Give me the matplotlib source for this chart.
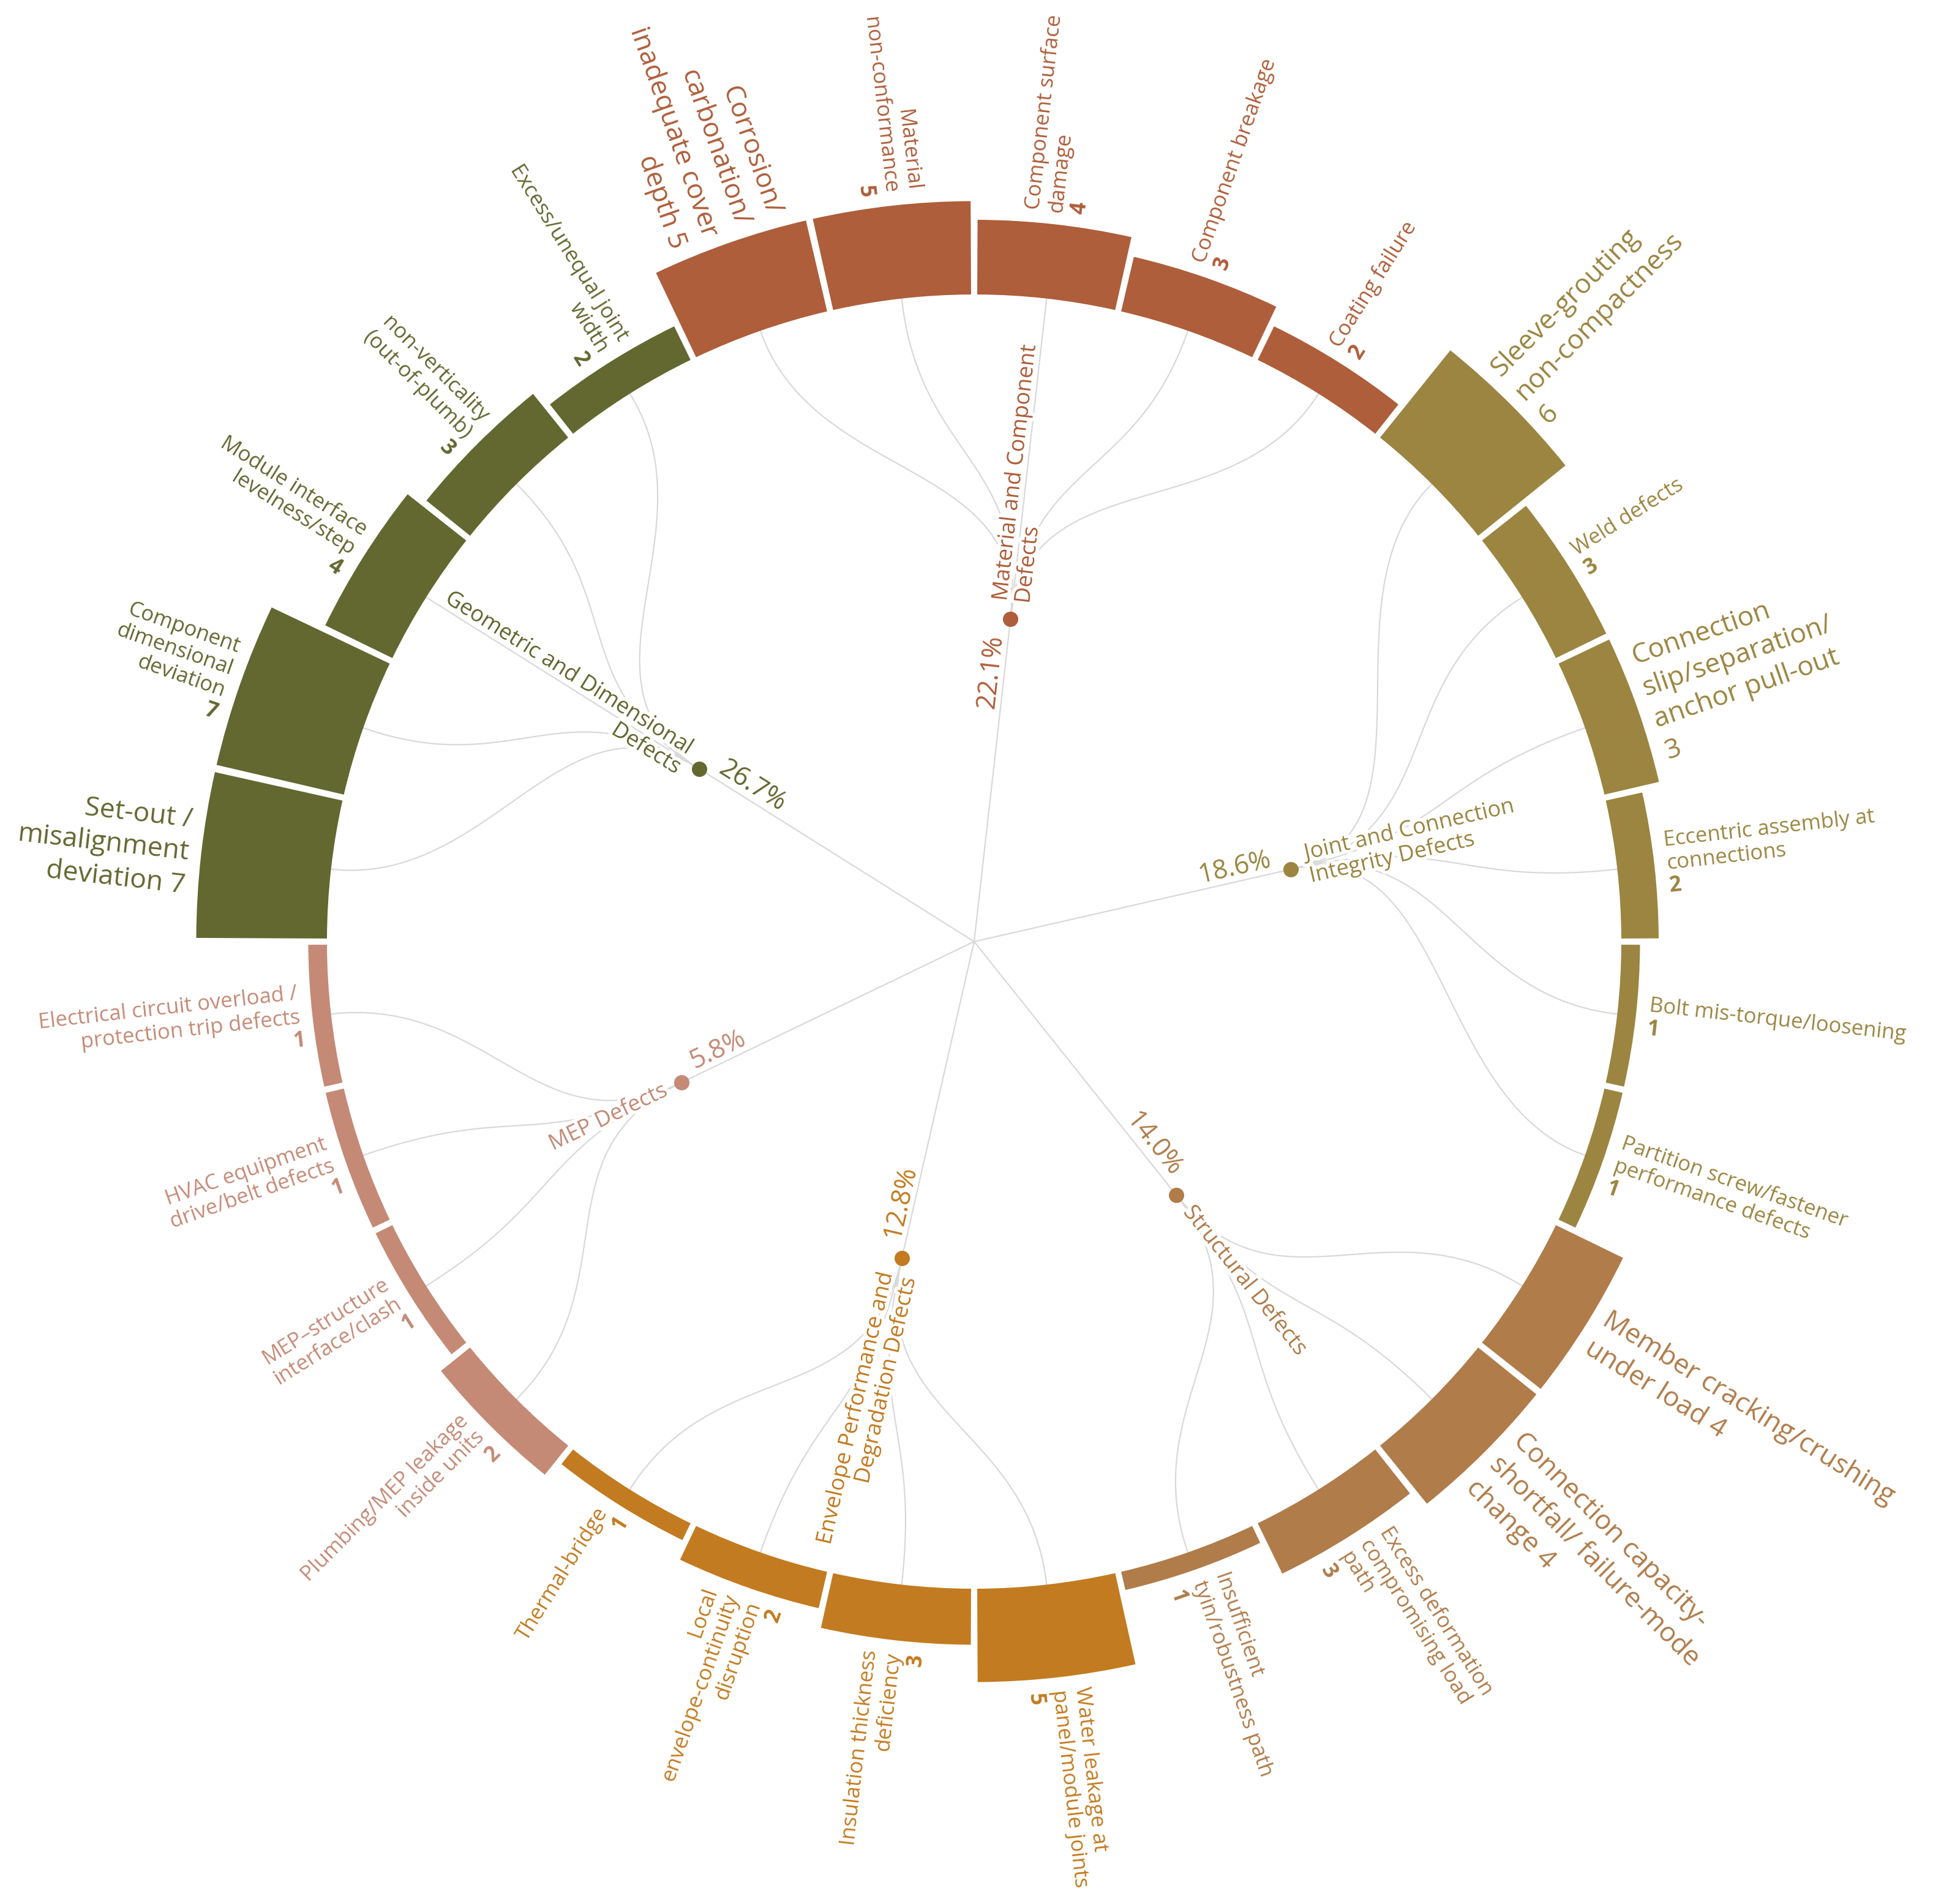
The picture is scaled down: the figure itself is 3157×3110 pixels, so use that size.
import numpy as np
import matplotlib
matplotlib.use('Agg')
import matplotlib.pyplot as plt
import matplotlib.patheffects as pe

plt.rcParams['font.family'] = ['Open Sans', 'DejaVu Sans']
plt.rcParams['mathtext.fontset'] = 'custom'
plt.rcParams['mathtext.rm'] = 'Open Sans'
plt.rcParams['mathtext.bf'] = 'Open Sans:bold'

# ---- data (clockwise, starting at 9 o'clock) ----
group_names = ['Geometric and Dimensional\nDefects',
               'Material and Component\nDefects',
               'Joint and Connection\nIntegrity Defects',
               'Structural Defects',
               'Envelope Performance and\nDegradation Defects',
               'MEP Defects']

geo_names = ['Set-out /\nmisalignment\ndeviation', 'Component\ndimensional\ndeviation',
             'Module interface\nlevelness/step', 'non-verticality\n(out-of-plumb)',
             'Excess/unequal joint\nwidth']
geo_values = [7, 7, 4, 3, 2]

mat_names = ['Corrosion/\ncarbonation/\ninadequate cover\ndepth', 'Material\nnon-conformance',
             'Component surface\ndamage', 'Component breakage', 'Coating failure']
mat_values = [5, 5, 4, 3, 2]

joint_names = ['Sleeve-grouting\nnon-compactness', 'Weld defects',
               'Connection\nslip/separation/\nanchor pull-out', 'Eccentric assembly at\nconnections',
               'Bolt mis-torque/loosening', 'Partition screw/fastener\nperformance defects']
joint_values = [6, 3, 3, 2, 1, 1]

struct_names = ['Member cracking/crushing\nunder load', 'Connection capacity-\nshortfall/ failure-mode\nchange',
                'Excess deformation\ncompromising load\npath', 'Insufficient\ntyin/robustness path']
struct_values = [4, 4, 3, 1]

env_names = ['Water leakage at\npanel/module joints', 'Insulation thickness\ndeficiency',
             'Local\nenvelope-continuity\ndisruption', 'Thermal-bridge']
env_values = [5, 3, 2, 1]

mep_names = ['Plumbing/MEP leakage\ninside units', 'MEP–structure\ninterface/clash',
             'HVAC equipment\ndrive/belt defects', 'Electrical circuit overload /\nprotection trip defects']
mep_values = [2, 1, 1, 1]

# ---- styling ----
group_colors = ['#636830', '#AE5E3A', '#9B8540', '#B07C4A', '#C27B20', '#C48A76']
# labels drawn large with the value in plain text
big_inline = ['Set-out /\nmisalignment\ndeviation', 'Corrosion/\ncarbonation/\ninadequate cover\ndepth',
              'Member cracking/crushing\nunder load', 'Connection capacity-\nshortfall/ failure-mode\nchange']
big_newline = ['Sleeve-grouting\nnon-compactness', 'Connection\nslip/separation/\nanchor pull-out']

all_names = [geo_names, mat_names, joint_names, struct_names, env_names, mep_names]
all_values = [geo_values, mat_values, joint_values, struct_values, env_values, mep_values]

names, values, colors, gidx = [], [], [], []
for g, (nm, vl) in enumerate(zip(all_names, all_values)):
    names += nm
    values += vl
    colors += [group_colors[g]] * len(nm)
    gidx += [g] * len(nm)
values = np.array(values)
total = values.sum()

R_IN = 1057     # inner radius of bars (px)
UNIT = 30.5     # bar length per defect
R_NODE = 530    # radius of group nodes
LINK = '#d9d9d9'

fig = plt.figure(figsize=(31.57, 31.10), dpi=100)
ax = fig.add_axes([0.02882, 0.02315, 0.95027, 0.96463], projection='polar')
ax.set_theta_zero_location('W')
ax.set_theta_direction(-1)
ax.set_ylim(0, 1500)
ax.set_axis_off()

n = len(values)
slot = 2 * np.pi / n
theta = (np.arange(n) + 0.5) * slot

ax.bar(theta, values * UNIT, width=slot - 0.0095, bottom=R_IN, color=colors,
       linewidth=0, zorder=2)


def to_xy(t, r):
    return -r * np.cos(t), r * np.sin(t)


def link(t0, r0, t1, r1):
    rm = (r0 + r1) / 2
    P = np.array([to_xy(t0, r0), to_xy(t0, rm), to_xy(t1, rm), to_xy(t1, r1)])
    s = np.linspace(0, 1, 120)[:, None]
    B = (1 - s) ** 3 * P[0] + 3 * (1 - s) ** 2 * s * P[1] + 3 * (1 - s) * s ** 2 * P[2] + s ** 3 * P[3]
    tt = np.unwrap(np.arctan2(B[:, 1], -B[:, 0]))
    rr = np.hypot(B[:, 0], B[:, 1])
    return tt, rr


def screen_angle(t):
    a = 180 - np.degrees(t)
    return (a + 180) % 360 - 180


def orient(t):
    a = screen_angle(t)
    if a > 90:
        return a - 180, True
    if a < -90:
        return a + 180, True
    return a, False


halo = [pe.withStroke(linewidth=8, foreground='white')]

# group nodes, links, labels
for g in range(len(group_names)):
    idx = [i for i in range(n) if gidx[i] == g]
    tg = theta[idx].mean()
    col = group_colors[g]
    ax.plot([tg, tg], [0, R_NODE], color=LINK, lw=1.6, zorder=1)
    for i in idx:
        tt, rr = link(tg, R_NODE, theta[i], R_IN)
        ax.plot(tt, rr, color=LINK, lw=1.6, zorder=1)
    ax.plot([tg], [R_NODE], 'o', color=col, ms=17, zorder=5)

    rot, flip = orient(tg)
    pct = '%.1f%%' % (100 * values[idx].sum() / total)
    ax.text(tg, R_NODE - 28, pct, rotation=rot, rotation_mode='anchor',
            ha='left' if flip else 'right', va='bottom', fontsize=31, color=col, zorder=4)
    ha = 'right' if flip else 'left'
    ax.text(tg, R_NODE + 28, group_names[g], rotation=rot, rotation_mode='anchor',
            ha=ha, va='center', multialignment=ha, fontsize=26, color=col,
            linespacing=1.05, path_effects=halo, zorder=4)

# leaf labels
for i in range(n):
    rot, flip = orient(theta[i])
    ha = 'right' if flip else 'left'
    nm = names[i]
    if nm in big_inline:
        txt, fs, ls = '%s %d' % (nm, values[i]), 32, 1.3
    elif nm in big_newline:
        txt, fs, ls = '%s\n%d' % (nm, values[i]), 32, 1.3
    else:
        txt, fs, ls = nm + '\n' + r'$\mathbf{%d}$' % values[i], 25, 1.15
    ax.text(theta[i], R_IN + values[i] * UNIT + 20, txt, rotation=rot, rotation_mode='anchor',
            ha=ha, va='center', multialignment=ha, fontsize=fs, color=colors[i],
            linespacing=ls, zorder=4)

fig.savefig('out.png', dpi=100, facecolor='white')
